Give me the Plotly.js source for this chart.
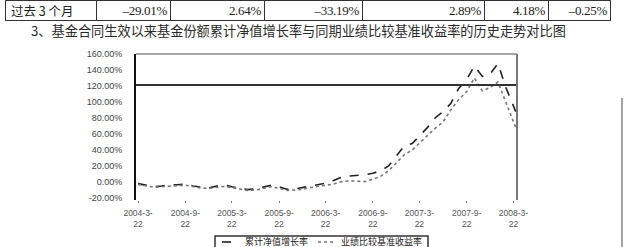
<!DOCTYPE html>
<html>
<head>
<meta charset="utf-8">
<script src="https://cdn.plot.ly/plotly-3.0.1.min.js"></script>
<style>
  html, body { margin:0; padding:0; background:#fff; }
  body { width:627px; height:247px; overflow:hidden; position:relative; }
  #chart { position:absolute; left:0; top:0; width:627px; height:247px; }
  #tbl { position:absolute; left:0; top:0; width:627px; height:24px; z-index:2; }
  .cell { position:absolute; top:0; height:21px; box-sizing:border-box; border:1px solid #333; border-right:none;
          font-family:"Liberation Serif","DejaVu Serif",serif; font-size:13px; color:#222; line-height:20px;
          text-align:right; padding-right:3px; letter-spacing:-0.3px; }
  .cell.first { font-family:"Noto Sans CJK SC",sans-serif; text-align:left; padding-left:5px; font-size:12.5px; letter-spacing:0; }
  .cell.last { border-right:1px solid #333; }
  #title { position:absolute; left:31px; top:22px; font-family:"Noto Sans CJK SC",sans-serif; font-size:13.2px;
           color:#2a2a2a; white-space:nowrap; line-height:18px; z-index:2; }
</style>
</head>
<body>
<div id="chart"></div>
<div id="tbl"></div>
<div id="title"></div>
<script>
// ---- data ----
const tableRow = ["过去 3 个月", "–29.01%", "2.64%", "–33.19%", "2.89%", "4.18%", "–0.25%"];
const chartTitle = "3、基金合同生效以来基金份额累计净值增长率与同期业绩比较基准收益率的历史走势对比图";

const dates = [
 "2004-03-22","2004-04-22","2004-05-22","2004-06-22","2004-07-22","2004-08-22","2004-09-22","2004-10-22",
 "2004-11-22","2004-12-22","2005-01-22","2005-02-22","2005-03-22","2005-04-22","2005-05-22","2005-06-22",
 "2005-07-22","2005-08-22","2005-09-22","2005-10-22","2005-11-22","2005-12-22","2006-01-22","2006-02-22",
 "2006-03-22","2006-04-22","2006-05-22","2006-06-22","2006-07-22","2006-08-22","2006-09-22","2006-10-22",
 "2006-11-22","2006-12-22","2007-01-22","2007-02-22","2007-03-22","2007-04-22","2007-05-22","2007-06-22",
 "2007-07-22","2007-08-22","2007-09-22","2007-10-22","2007-11-22","2007-12-22","2008-01-22","2008-02-22",
 "2008-03-31"
];
const fundGrowth = [
 -2, -4, -6, -5, -3.75, -3.5, -2.5, -5,
 -6.5, -7.5, -5, -3.75, -6, -8, -9.5, -8.75,
 -6.5, -4, -6, -9, -8.75, -7, -4.5, -3,
 -1.5, 2, 6, 7.5, 8, 9, 11, 14,
 20, 33, 45, 48, 57, 68, 80, 88,
 98, 117, 128, 145, 132, 135, 148, 118,
 88
];
const benchmarkGrowth = [
 -3, -5, -6.5, -6, -5, -4.5, -4, -6,
 -7.5, -8, -6.5, -5.5, -7, -9, -10.5, -10,
 -8, -6, -8, -10.5, -10, -9, -7, -5.5,
 -4, -2.5, 0.5, 1.5, 1, 0.5, 3.5, 7,
 14, 24, 34, 40, 48, 58, 67, 75,
 90, 103, 113, 130, 114, 118, 125, 100,
 68
];
const seriesNames = ["累计净值增长率", "业绩比较基准收益率"];

const yTickVals = [-20, 0, 20, 40, 60, 80, 100, 120, 140, 160];
const yTickText = ["-20.00%","0.00%","20.00%","40.00%","60.00%","80.00%","100.00%","120.00%","140.00%","160.00%"];
const xTickVals = ["2004-03-22","2004-09-22","2005-03-22","2005-09-22","2006-03-22","2006-09-22","2007-03-22","2007-09-22","2008-03-22"];
const xTickText = ["2004-3-<br>22","2004-9-<br>22","2005-3-<br>22","2005-9-<br>22","2006-3-<br>22","2006-9-<br>22","2007-3-<br>22","2007-9-<br>22","2008-3-<br>22"];

// ---- table and title (HTML) ----
const colEdges = [5, 96, 170, 264, 362, 484, 548, 610];
const tbl = document.getElementById('tbl');
tableRow.forEach((t, i) => {
  const d = document.createElement('div');
  d.className = 'cell' + (i === 0 ? ' first' : '') + (i === tableRow.length - 1 ? ' last' : '');
  d.style.left = colEdges[i] + 'px';
  d.style.width = (colEdges[i + 1] - colEdges[i] + (i === tableRow.length - 1 ? 1 : 0)) + 'px';
  d.textContent = t;
  tbl.appendChild(d);
});
document.getElementById('title').textContent = chartTitle;

// ---- chart ----
const W = 627, H = 247, L = 136, R = 517, T = 54, B = 200;
const px = x => (x - L) / (R - L);
const py = y => (B - y) / (B - T);

const traces = [
  { x: dates, y: fundGrowth, name: seriesNames[0], type: 'scatter', mode: 'lines',
    line: { color: '#222', width: 1.6, dash: 'dash' }, showlegend: false },
  { x: dates, y: benchmarkGrowth, name: seriesNames[1], type: 'scatter', mode: 'lines',
    line: { color: '#777', width: 1.6, dash: 'dot' }, showlegend: false }
];

const shapes = [
  { type: 'line', xref: 'paper', yref: 'paper', x0: 0, x1: 1, y0: 1, y1: 1, line: { color: '#888', width: 1.5 } },
  { type: 'line', xref: 'paper', yref: 'paper', x0: 0, x1: 1, y0: py(85), y1: py(85), line: { color: '#333', width: 1.8 } },
  { type: 'line', xref: 'paper', yref: 'paper', x0: 1, x1: 1, y0: 0, y1: 1, line: { color: '#777', width: 2 } },
  { type: 'rect', xref: 'paper', yref: 'paper', x0: px(215), x1: px(428), y0: py(250), y1: py(236), line: { color: '#333', width: 1.5 }, fillcolor: 'rgba(0,0,0,0)' },
  { type: 'line', xref: 'paper', yref: 'paper', x0: px(222), x1: px(240), y0: py(242), y1: py(242), line: { color: '#222', width: 1.6, dash: 'dash' } },
  { type: 'line', xref: 'paper', yref: 'paper', x0: px(318), x1: px(336), y0: py(242), y1: py(242), line: { color: '#777', width: 1.6, dash: 'dot' } },
  { type: 'line', xref: 'paper', yref: 'paper', x0: px(622), x1: px(622), y0: py(250), y1: py(98), line: { color: '#666', width: 1.2 } }
];

const annotations = [
  { xref: 'paper', yref: 'paper', x: px(243), y: py(241.5), text: seriesNames[0], showarrow: false, xanchor: 'left', yanchor: 'middle',
    font: { family: 'Noto Sans CJK SC', size: 9, color: '#222' } },
  { xref: 'paper', yref: 'paper', x: px(339), y: py(241.5), text: seriesNames[1], showarrow: false, xanchor: 'left', yanchor: 'middle',
    font: { family: 'Noto Sans CJK SC', size: 9, color: '#222' } }
];

const layout = {
  width: W, height: H,
  margin: { l: L, r: W - R, t: T, b: H - B, pad: 0 },
  paper_bgcolor: '#fff', plot_bgcolor: '#fff',
  showlegend: false,
  font: { family: 'Liberation Sans, DejaVu Sans, sans-serif', color: '#444' },
  xaxis: {
    type: 'date', range: ['2004-03-14', '2008-04-05'],
    tickmode: 'array', tickvals: xTickVals, ticktext: xTickText,
    tickfont: { size: 8.5, color: '#555' },
    showgrid: false, zeroline: false, showline: false,
    ticks: 'outside', ticklen: 2, tickcolor: '#777', tickwidth: 1,
    ticklabelstandoff: 3, fixedrange: true
  },
  yaxis: {
    range: [-22.5, 160],
    tickmode: 'array', tickvals: yTickVals, ticktext: yTickText,
    tickfont: { size: 9, color: '#444' },
    showgrid: false, zeroline: false,
    showline: true, linecolor: '#111', linewidth: 2,
    ticks: '', ticklabelstandoff: 10, fixedrange: true
  },
  shapes: shapes,
  annotations: annotations
};

Plotly.newPlot('chart', traces, layout, { displayModeBar: false, staticPlot: true });
</script>
</body>
</html>
